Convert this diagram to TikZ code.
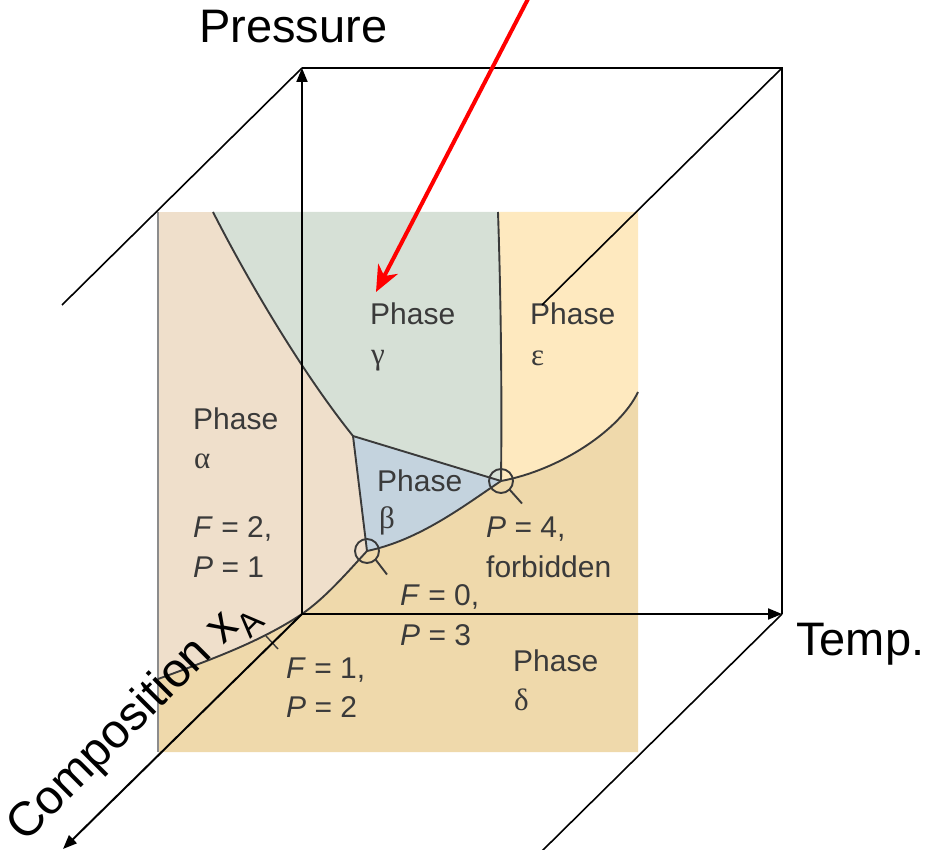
\documentclass[tikz,border=0pt]{standalone}
\usepackage{fontspec}
\setmainfont{Liberation Sans}
\newfontfamily\grk{Liberation Serif}
\usetikzlibrary{arrows.meta}
\definecolor{alphac}{RGB}{239,223,203}
\definecolor{gammac}{RGB}{214,224,214}
\definecolor{epsc}{RGB}{254,233,191}
\definecolor{betac}{RGB}{196,211,222}
\definecolor{deltac}{RGB}{239,217,171}
\definecolor{ink}{RGB}{58,58,58}
\begin{document}
\begin{tikzpicture}[x=1pt,y=-1pt,
  lbl/.style={anchor=base west, inner sep=0pt, text=ink, font=\fontsize{30}{36}\selectfont},
  glbl/.style={anchor=base west, inner sep=0pt, text=ink, font=\grk\fontsize{31}{36}\selectfont},
  bound/.style={draw=ink, line width=1.9pt},
  cube/.style={line width=2pt, draw=black},
  diag/.style={line width=1.6pt, draw=black},
  tip/.style={-{Triangle[length=14pt,width=11pt]}},
  axlbl/.style={anchor=base west, inner sep=0pt, text=black, font=\fontsize{47}{52}\selectfont}]
\useasboundingbox (0,0) rectangle (927,850);

% key points of the phase diagram
\coordinate (A) at (213,212);
\coordinate (T) at (353,436);
\coordinate (Q) at (501,481);
\coordinate (R) at (367,551);
\coordinate (G) at (498,212);
\coordinate (E) at (638,392);
\coordinate (L) at (158,679);
\coordinate (O) at (302,614);

% region fills
\fill[alphac] (158,212) rectangle (638,752);
\fill[gammac] (A) .. controls (245,275) and (300,370) .. (T) -- (Q) .. controls (502,400) and (501,300) .. (G) -- cycle;
\fill[epsc] (G) .. controls (501,300) and (502,400) .. (Q) .. controls (560,470) and (620,430) .. (E) -- (638,212) -- cycle;
\fill[betac] (T) -- (Q) .. controls (465,505) and (420,540) .. (R) -- cycle;
\fill[deltac] (L) .. controls (210,660) and (260,642) .. (O) .. controls (325,598) and (345,575) .. (R) .. controls (420,540) and (465,505) .. (Q) .. controls (560,470) and (620,430) .. (E) -- (638,752) -- (158,752) -- cycle;
\draw[draw={rgb,255:red,140;green,140;blue,140}, line width=1.2pt] (158,212) -- (158,752);

% phase boundaries
\draw[bound] (A) .. controls (245,275) and (300,370) .. (T) -- (Q);
\draw[bound] (G) .. controls (501,300) and (502,400) .. (Q);
\draw[bound] (Q) .. controls (560,470) and (620,430) .. (E);
\draw[bound] (Q) .. controls (465,505) and (420,540) .. (R);
\draw[bound] (T) -- (R);
\draw[bound] (R) .. controls (345,575) and (325,598) .. (O) .. controls (260,642) and (210,660) .. (L);
\draw[bound] (Q) circle[radius=12pt];
\draw[bound] (R) circle[radius=12pt];
\draw[bound] (Q) ++(8.5,8.5) -- ++(12.5,14);
\draw[bound] (R) ++(8.5,8.5) -- ++(11.5,15);
\draw[bound, line width=1.4pt] (266,636) -- (278,649);

% labels
\node[lbl] (gph) at (370,325) {Phase};
\node[glbl] (gg) at (371,365) {γ};
\node[lbl] (eph) at (530,325) {Phase};
\node[glbl] (ee) at (531,366) {ε};
\node[lbl] (aph) at (193,429) {Phase};
\node[glbl] (aa) at (194,468) {α};
\node[lbl] (f2) at (193,537) {\textit{F} = 2,};
\node[lbl] (p1) at (193,577) {\textit{P} = 1};
\node[lbl] (bph) at (377,491) {Phase};
\node[glbl] (bb) at (379,528) {β};
\node[lbl] (p4) at (486,537) {\textit{P} = 4,};
\node[lbl] (forb) at (486,577) {forbidden};
\node[lbl] (f0) at (400,605) {\textit{F} = 0,};
\node[lbl] (p3) at (400,645) {\textit{P} = 3};
\node[lbl] (f1) at (286,678) {\textit{F} = 1,};
\node[lbl] (p2) at (286,717) {\textit{P} = 2};
\node[lbl] (dph) at (513,671) {Phase};
\node[glbl] (dd) at (514,710) {δ};

% cube
\coordinate (P1) at (302,68);
\coordinate (P2) at (782,68);
\coordinate (P3) at (782,614);
\coordinate (F1) at (62,305);
\coordinate (F2) at (542,305);
\coordinate (F3) at (542,851);
\coordinate (F4) at (63,849);
\draw[cube, tip] (O) -- (P1);
\draw[cube, tip] (O) -- (P3);
\draw[cube, tip] (O) -- (F4);
\draw[cube] (P1) -- (P2) -- (P3);
\draw[diag] (P1) -- (F1);
\draw[diag] (P2) -- (F2);
\draw[diag] (P3) -- (F3);

% axis labels
\node[axlbl] (press) at (199,43) {Pressure};
\node[axlbl] (temp) at (796,655) {Temp.};
\node[axlbl, rotate=45, font=\fontsize{48}{52}\selectfont] (comp) at (25,844) {Composition x\textsubscript{A}};

% red arrow
\coordinate (rs) at (529,-3);
\coordinate (rt) at (376,292);
\draw[draw=red, line width=4pt, -{Stealth[length=26pt,width=22pt,inset=8pt]}] (rs) -- (rt);
\end{tikzpicture}
\end{document}
